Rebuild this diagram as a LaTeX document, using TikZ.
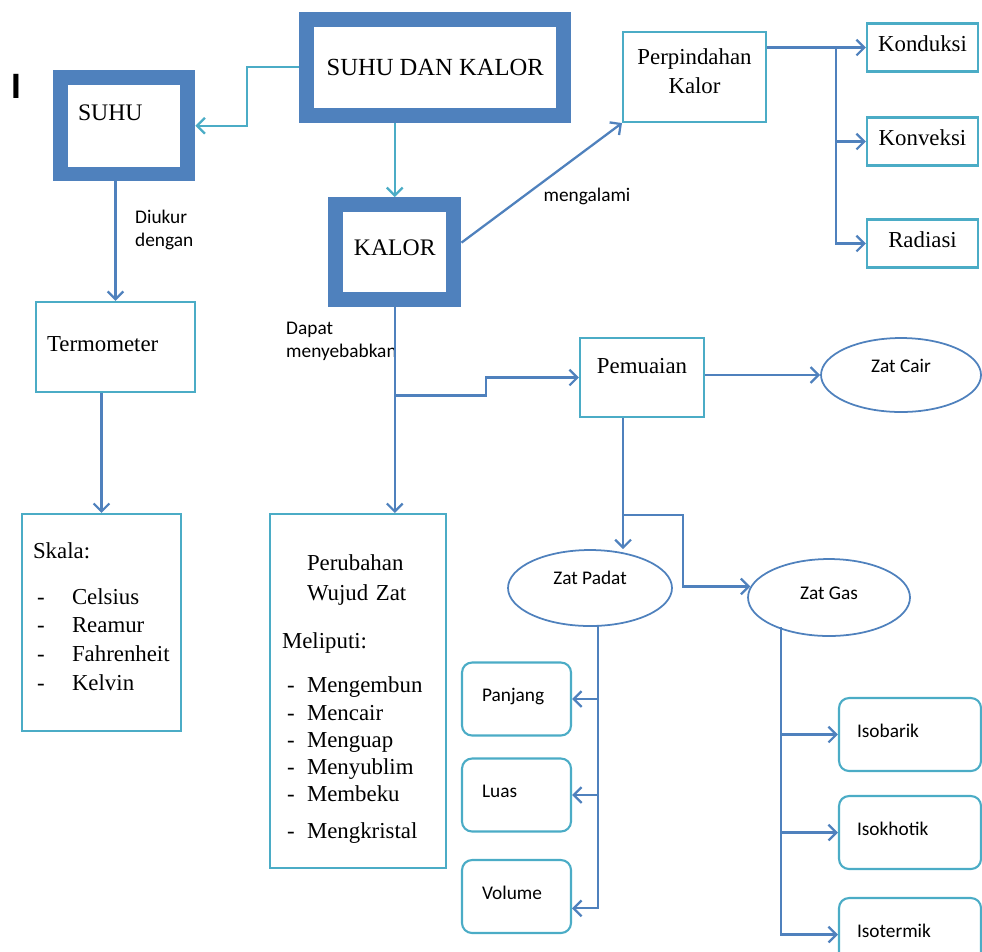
\documentclass[tikz,border=0pt]{standalone}
\usepackage{fontspec}
\setmainfont{Liberation Serif}
\newfontfamily\calibri{Carlito}
\newfontfamily\arialfont{Liberation Sans}
\usetikzlibrary{arrows.meta,shapes.geometric,calc}
\definecolor{frameblue}{HTML}{4F81BD}
\definecolor{edgeteal}{HTML}{4BACC6}
\definecolor{lineblue}{HTML}{4F81BD}
\newcommand{\highstrut}[1]{\rule{0pt}{#1}}
\newcommand{\lowstrut}[1]{\rule[-#1]{0pt}{#1}}
\newcommand{\skalaitem}[1]{\makebox[0.78cm][l]{\hspace{0.08cm}-}#1}
\newcommand{\wujuditem}[1]{\makebox[0.5cm][l]{\hspace{0.1cm}-}#1}
\begin{document}
\begin{tikzpicture}[x=0.02cm, y=-0.02cm,
    thickframe/.style={draw=frameblue, line width=0.3cm, fill=white, font=\fontsize{13.5}{16}\selectfont},
    plainbox/.style={draw=edgeteal, line width=1.2pt, font=\fontsize{13}{16}\selectfont},
    roundbox/.style={draw=edgeteal, line width=1.2pt, rounded corners=0.2cm, minimum height=1.46cm, align=left, text height=7.5pt, text depth=4.5pt, font=\calibri\fontsize{11}{13}\selectfont},
    phase/.style={ellipse, draw=lineblue, line width=1pt, font=\calibri\fontsize{11}{13}\selectfont},
    smalltext/.style={font=\calibri\fontsize{11}{13}\selectfont, align=left},
    bluearrow/.style={draw=lineblue, line width=1.3pt, -{Straight Barb[length=4.5pt,width=9pt]}},
    tealarrow/.style={draw=edgeteal, line width=1.3pt, -{Straight Barb[length=4.5pt,width=9pt]}}]
   \useasboundingbox (0,0) rectangle (982,951);

   \node[font=\arialfont\bfseries\fontsize{20}{24}\selectfont] (mark) at (16,86) {I};

   \node[thickframe, minimum width=5.15cm, minimum height=1.93cm, font=\fontsize{14}{16}\selectfont] (sdk) at (435.25,67.25) {SUHU DAN KALOR};
   \node[thickframe, minimum width=2.55cm, minimum height=1.93cm, text width=1.85cm, align=left, text height=9pt, text depth=15.5pt] (suhu) at (124.25,125.75) {SUHU};
   \node[thickframe, minimum width=2.37cm, minimum height=1.9cm, text height=9pt, text depth=5pt] (kalor) at (394.75,252) {KALOR};

   \node[plainbox, minimum width=2.86cm, minimum height=1.8cm, text width=2.5cm, align=center, font=\fontsize{13}{16.5}\selectfont] (perp) at (694.5,77) {Perpindahan\\Kalor\lowstrut{6.8pt}};
   \node[plainbox, minimum width=2.22cm, minimum height=0.96cm, text height=9pt, text depth=5pt] (kond) at (922.5,47.5) {Konduksi};
   \node[plainbox, minimum width=2.22cm, minimum height=0.96cm, text height=9pt, text depth=5pt] (konv) at (922.5,141.5) {Konveksi};
   \node[plainbox, minimum width=2.22cm, minimum height=0.96cm, text height=9pt, text depth=5pt] (rad) at (922.5,243.5) {Radiasi};

   \node[plainbox, minimum width=3.18cm, minimum height=1.8cm, text width=2.74cm, align=left, text height=9pt, text depth=4pt] (termo) at (115.5,347) {Termometer};
   \node[plainbox, minimum width=3.18cm, minimum height=4.34cm, text width=2.74cm, align=left] (skala) at (101.5,622.5)
     {Skala:\\[10.6pt]\skalaitem{Celsius}\\\skalaitem{Reamur}\\\skalaitem{Fahrenheit}\\[1pt]\skalaitem{Kelvin}\lowstrut{6.8pt}};
   \node[plainbox, minimum width=3.52cm, minimum height=7.08cm, text width=3.04cm, align=left, font=\fontsize{13}{15.5}\selectfont] (perub) at (358,691)
     {\highstrut{18.5pt}\hspace*{0.5cm}Perubahan\\[1.5pt]\hspace*{0.5cm}Wujud Zat\\[11.5pt]Meliputi:\\[10pt]
      \wujuditem{Mengembun}\\\wujuditem{Mencair}\\\wujuditem{Menguap}\\\wujuditem{Menyublim}\\\wujuditem{Membeku}\\[5.5pt]\wujuditem{Mengkristal}};

   \node[plainbox, minimum width=2.48cm, minimum height=1.58cm, text height=9pt, text depth=13.6pt] (pem) at (642,377.5) {Pemuaian};
   \node[phase, minimum width=3.2cm, minimum height=1.48cm, text height=7.5pt, text depth=10.8pt] (cair) at (901,375) {Zat Cair};
   \node[phase, minimum width=3.28cm, minimum height=1.52cm, text height=7.5pt, text depth=12pt] (padat) at (590,588) {Zat Padat};
   \node[phase, minimum width=3.24cm, minimum height=1.54cm, text height=7.5pt, text depth=5.7pt] (gas) at (829,597.5) {Zat Gas};

   \node[roundbox, minimum width=2.18cm, text width=1.38cm] (panj) at (516.5,699) {Panjang};
   \node[roundbox, minimum width=2.18cm, text width=1.38cm] (luas) at (516.5,795) {Luas};
   \node[roundbox, minimum width=2.18cm, text width=1.38cm] (vol) at (516.5,896.5) {Volume};
   \node[roundbox, minimum width=2.84cm, text width=2.12cm] (isobar) at (910,734.5) {Isobarik};
   \node[roundbox, minimum width=2.84cm, text width=2.12cm] (isokh) at (910,832.5) {Isokhotik};
   \node[roundbox, minimum width=2.84cm, text width=2.12cm] (isoterm) at (910,934.5) {Isotermik};

   \node[smalltext, anchor=west] (diukur) at (129,230) {Diukur\\dengan};
   \node[smalltext, anchor=west] (dapat) at (280,341) {Dapat\\menyebabkan};
   \node[smalltext] (mengalami) at (587,196) {mengalami};

   \draw[tealarrow] (sdk.west) -| ($(sdk.west)!0.5!(suhu.east)$) |- (suhu.east);
   \draw[tealarrow] (kalor.north |- sdk.south) -- (kalor.north);

   \draw[bluearrow] (kalor.8) -- (perp.south west);
   \coordinate (hub) at ($(perp.east |- kond.west)!0.7!(kond.west)$);
   \draw[bluearrow] (perp.east |- kond.west) -- (kond.west);
   \draw[bluearrow] (hub) |- (konv.west);
   \draw[bluearrow] (hub) |- (rad.west);

   \draw[bluearrow] (termo.north |- suhu.south) -- (termo.north);
   \draw[bluearrow] (skala.north |- termo.south) -- (skala.north);

   \draw[bluearrow] (kalor.south) -- (kalor.south |- perub.north);
   \coordinate (fork) at ($(kalor.south)!0.43!(kalor.south |- perub.north)$);
   \draw[bluearrow] (fork) -- ++(91,0) |- (pem.west);
   \draw[bluearrow] (pem.east |- cair.west) -- (cair.west);

   \coordinate (pemfoot) at ($(pem.south west)!0.35!(pem.south east)$);
   \draw[bluearrow] (pemfoot) -- (pemfoot |- padat.north);
   \coordinate (gasfork) at ($(pemfoot)!0.74!(pemfoot |- padat.north)$);
   \draw[bluearrow] (gasfork) -- ++(60,0) |- (gas.172);

   \coordinate (padatfoot) at ([xshift=0.16cm, yshift=0.04cm]padat.south);
   \draw[bluearrow] (padatfoot) |- (vol.-12);
   \draw[bluearrow] (padatfoot |- panj.east) -- (panj.east);
   \draw[bluearrow] (padatfoot |- luas.east) -- (luas.east);

   \coordinate (gasfoot) at ([xshift=-0.96cm, yshift=0.2cm]gas.south);
   \draw[bluearrow] (gasfoot) |- (isoterm.west);
   \draw[bluearrow] (gasfoot |- isobar.west) -- (isobar.west);
   \draw[bluearrow] (gasfoot |- isokh.west) -- (isokh.west);

 \end{tikzpicture}
\end{document}
